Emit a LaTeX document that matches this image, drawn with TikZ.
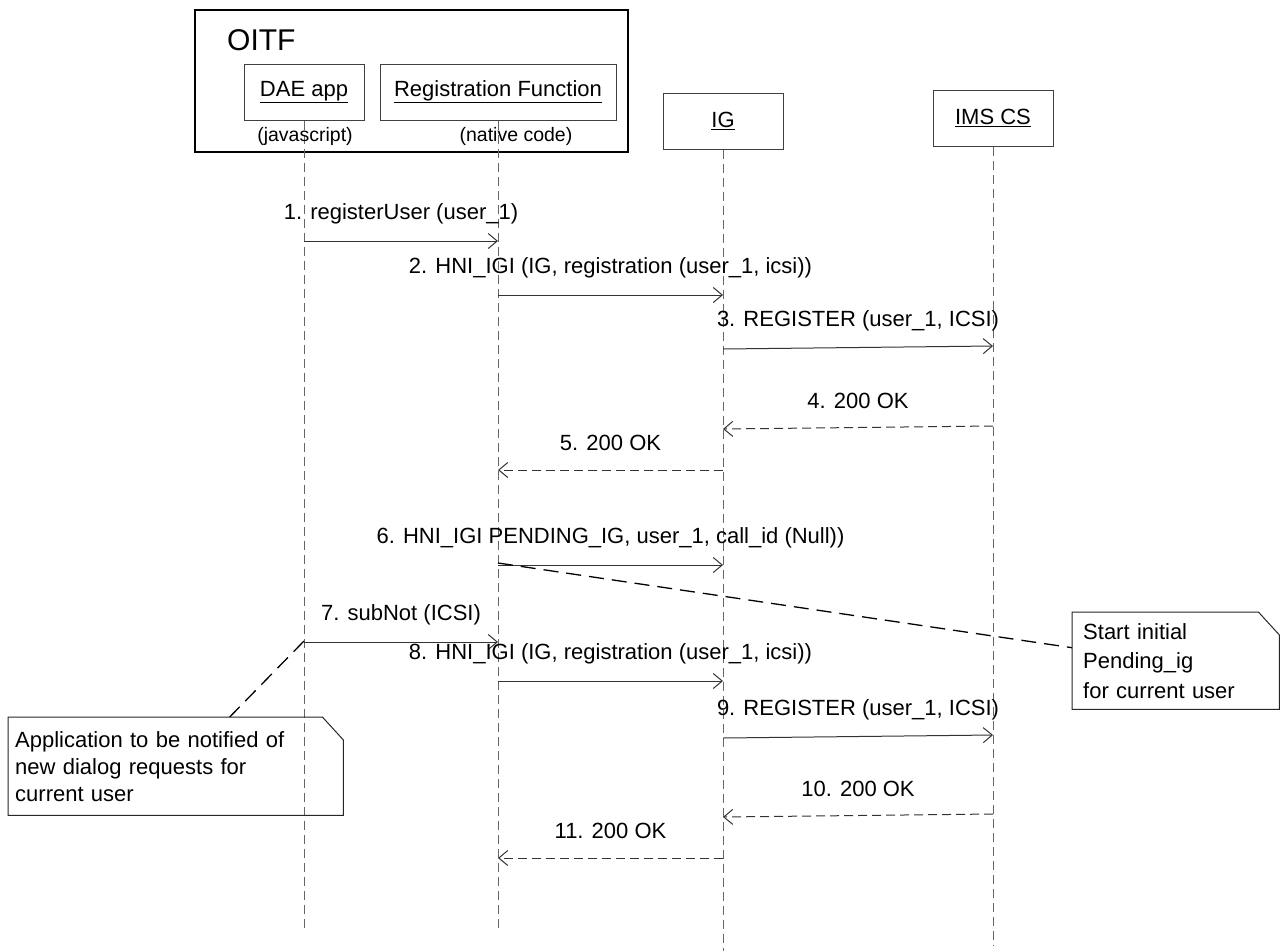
\documentclass[tikz,border=0pt]{standalone}
\usepackage{fontspec}
\setmainfont{Liberation Sans}
\usetikzlibrary{arrows.meta}
\begin{document}
\begin{tikzpicture}[x=1pt,y=-1pt,
  every node/.style={inner sep=0pt, font=\fontsize{22}{27}\selectfont},
  actor/.style={draw=black!75, line width=1pt, fill=white, minimum width=120pt, minimum height=56pt},
  small/.style={font=\fontsize{19.5}{23}\selectfont},
  lifeline/.style={draw=black!60, line width=1pt, dash pattern=on 9pt off 5pt},
  msg/.style={draw=black!80, line width=1pt, -{Straight Barb[length=9pt,width=15pt]}},
  reply/.style={msg, dash pattern=on 9pt off 5pt},
  lbl/.style={midway, yshift=27pt},
  notebox/.style={minimum height=98pt, align=left, text width=#1},
  noteline/.style={draw=black!85, line width=1pt},
  notelink/.style={draw=black, line width=1.3pt, dash pattern=on 15pt off 8pt}]
\useasboundingbox (0,0) rectangle (1282,951);

% OITF container and participants
\node[draw=black, line width=1.3pt, minimum width=433pt, minimum height=142pt] (oitf) at (411.5,81) {};
\node[anchor=west, font=\fontsize{30}{36}\selectfont] (oitfl) at (227,40) {OITF};
\node[actor] (dae) at (304,92) {\underline{DAE app}};
\node[actor, minimum width=236pt] (rf) at (498,92) {\underline{Registration Function}};
\node[actor] (ig) at (723,121) {\underline{IG}};
\node[actor] (ims) at (993,118) {\underline{IMS CS}};

% lifelines
\coordinate (daeEnd) at (304,928);
\coordinate (rfEnd) at (498,928);
\coordinate (igEnd) at (723,951);
\coordinate (imsEnd) at (993,946);
\draw[lifeline] (dae.south) -- (daeEnd);
\draw[lifeline] (rf.south) -- (rfEnd);
\draw[lifeline] (ig.south) -- (igEnd);
\draw[lifeline] (ims.south) -- (imsEnd);

\node[small] (daesub) at (305,136) {(javascript)};
\node[small] (rfsub) at (516,136) {(native code)};

% messages
\draw[msg] (dae |- 0,241) -- (rf |- 0,241) node[lbl] (l1) {1. registerUser (user\_1)};
\draw[msg] (rf |- 0,295) -- (ig |- 0,295) node[lbl] (l2) {2. HNI\_IGI (IG, registration (user\_1, icsi))};
\draw[msg] (ig |- 0,349) -- (ims |- 0,346) node[lbl] (l3) {3. REGISTER (user\_1, ICSI)};
\draw[reply] (ims |- 0,426) -- (ig |- 0,429) node[lbl] (l4) {4. 200 OK};
\draw[reply] (ig |- 0,470) -- (rf |- 0,470) node[lbl] (l5) {5. 200 OK};
\draw[msg] (rf |- 0,565) -- (ig |- 0,565) node[lbl] (l6) {6. HNI\_IGI PENDING\_IG, user\_1, call\_id (Null))};
\draw[msg] (dae |- 0,642) -- (rf |- 0,642) node[lbl] (l7) {7. subNot (ICSI)};
\draw[msg] (rf |- 0,681) -- (ig |- 0,681) node[lbl] (l8) {8. HNI\_IGI (IG, registration (user\_1, icsi))};
\draw[msg] (ig |- 0,738) -- (ims |- 0,735) node[lbl] (l9) {9. REGISTER (user\_1, ICSI)};
\draw[reply] (ims |- 0,814) -- (ig |- 0,817) node[lbl] (l10) {10. 200 OK};
\draw[reply] (ig |- 0,858) -- (rf |- 0,858) node[lbl] (l11) {11. 200 OK};

% notes
\node[notebox=185pt, inner xsep=11pt, anchor=north west, minimum height=97pt,
      font=\fontsize{22}{29.5}\selectfont] (nr) at (1072,612)
  {Start initial\\Pending\_ig\\for current user};
\draw[noteline] (nr.south west) -- (nr.north west) -- ([xshift=-21pt]nr.north east)
  -- ([yshift=-23pt]nr.north east) -- (nr.south east) -- cycle;
\node[notebox=321pt, inner xsep=7pt, anchor=north west] (nl) at (8,717)
  {Application to be notified of\\new dialog requests for\\current user};
\draw[noteline] (nl.south west) -- (nl.north west) -- ([xshift=-21pt]nl.north east)
  -- ([yshift=-23pt]nl.north east) -- (nl.south east) -- cycle;

% note links
\coordinate (c6) at (rf |- 0,563);
\draw[notelink] (c6) -- ([yshift=13pt]nr.west);
\coordinate (c7) at (dae |- 0,641);
\draw[notelink] (c7) -- ([xshift=54pt]nl.north);
\end{tikzpicture}
\end{document}
